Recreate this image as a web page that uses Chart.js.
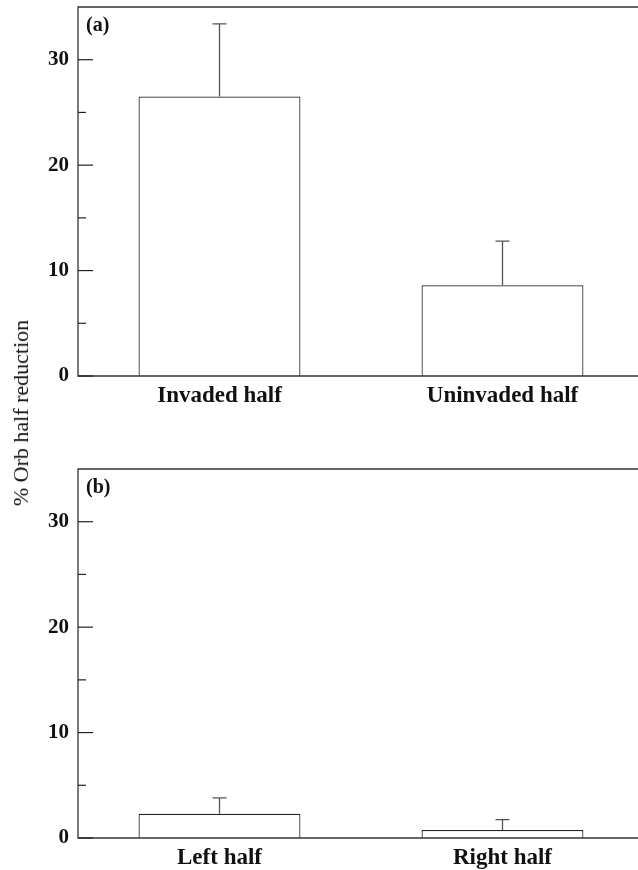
<!DOCTYPE html>
<html>
<head>
<meta charset="utf-8">
<script src="https://cdn.jsdelivr.net/npm/chart.js@4.4.1/dist/chart.umd.min.js"></script>
<style>
  html, body { margin: 0; padding: 0; background: #fff; overflow: hidden; width: 638px; height: 870px; }
  #wrap { position: relative; width: 638px; height: 870px; }
  canvas { position: absolute; left: 0; }
  #c1 { top: 0; }
  #c2 { top: 430px; }
  #ytitle {
    position: absolute; left: 20.5px; top: 413px;
    transform: translate(-50%, -50%) rotate(-90deg);
    font-family: "Liberation Serif", serif; font-size: 22px; color: #111;
    white-space: nowrap; line-height: 1;
  }
</style>
</head>
<body>
<div id="wrap">
  <canvas id="c1" width="644" height="430"></canvas>
  <canvas id="c2" width="644" height="440"></canvas>
  <div id="ytitle">% Orb half reduction</div>
</div>
<script>
// Panel (a): invaded vs uninvaded half of the orb
const catsA = ['Invaded half', 'Uninvaded half'];
const meanA = [26.5, 8.6];
const seA   = [6.9, 4.2];

// Panel (b): left vs right half of the orb
const catsB = ['Left half', 'Right half'];
const meanB = [2.3, 0.75];
const seB   = [1.5, 1.0];

const yMax = 35;
const yTickLabels = [0, 10, 20, 30];

const INK = '#222';
const serif = '"Liberation Serif", "Times New Roman", serif';

// Frame (left, top, bottom), inward ticks, error bars and panel letter
const decor = {
  id: 'decor',
  afterDatasetsDraw(chart, args, opts) {
    const { ctx, chartArea: a, scales: { x, y } } = chart;
    ctx.save();
    // axes lines
    ctx.strokeStyle = '#333';
    ctx.lineWidth = 1.3;
    ctx.beginPath();
    ctx.moveTo(chart.width + 10, a.top); ctx.lineTo(a.left, a.top);
    ctx.lineTo(a.left, a.bottom); ctx.lineTo(chart.width + 10, a.bottom);
    ctx.stroke();
    // inward ticks: long at labelled values, short at the halves
    ctx.strokeStyle = INK;
    ctx.lineWidth = 1.2;
    for (let v = 0; v <= 30; v += 5) {
      const py = y.getPixelForValue(v);
      const len = v % 10 === 0 ? 15 : 8;
      ctx.beginPath();
      ctx.moveTo(a.left, py); ctx.lineTo(a.left + len, py);
      ctx.stroke();
    }
    // error bars (upper half only)
    const meta = chart.getDatasetMeta(0);
    ctx.strokeStyle = '#555';
    ctx.lineWidth = 1.3;
    opts.se.forEach((e, i) => {
      const bar = meta.data[i];
      const m = chart.data.datasets[0].data[i];
      const top = y.getPixelForValue(m + e);
      ctx.beginPath();
      ctx.moveTo(bar.x, bar.y); ctx.lineTo(bar.x, top);
      ctx.moveTo(bar.x - 7, top); ctx.lineTo(bar.x + 7, top);
      ctx.stroke();
    });
    // panel letter
    ctx.fillStyle = '#111';
    ctx.font = 'bold 20px ' + serif;
    ctx.textAlign = 'left';
    ctx.textBaseline = 'top';
    ctx.fillText(opts.letter, a.left + 8, a.top + 9);
    ctx.restore();
  }
};

function makePanel(id, cats, means, se, letter, padTop, xHeight) {
  return new Chart(document.getElementById(id), {
    type: 'bar',
    data: {
      labels: cats,
      datasets: [{
        data: means,
        backgroundColor: '#fff',
        borderColor: INK,
        borderWidth: 1.2,
        borderSkipped: 'bottom',
        barPercentage: 0.572,
        categoryPercentage: 1.0
      }]
    },
    options: {
      responsive: false,
      animation: false,
      layout: { autoPadding: false, padding: { top: padTop, right: 0, bottom: 0, left: 0 } },
      plugins: {
        legend: { display: false },
        tooltip: { enabled: false },
        decor: { se: se, letter: letter }
      },
      scales: {
        x: {
          grid: { display: false, drawTicks: false },
          border: { display: false },
          ticks: { color: '#111', padding: 6, font: { family: serif, size: 23, weight: 'bold' } },
          afterFit(s) { s.height = xHeight; }
        },
        y: {
          min: 0, max: yMax,
          grid: { display: false, drawTicks: false },
          border: { display: false },
          afterBuildTicks(s) { s.ticks = yTickLabels.map(v => ({ value: v })); },
          ticks: { color: '#111', padding: 9, font: { family: serif, size: 21, weight: 'bold', lineHeight: 0.6 } },
          afterFit(s) { s.width = 78; s.paddingTop = 0; s.paddingBottom = 0; }
        }
      }
    },
    plugins: [decor]
  });
}

makePanel('c1', catsA, meanA, seA, '(a)', 7, 54);
makePanel('c2', catsB, meanB, seB, '(b)', 39, 32);
</script>
</body>
</html>
